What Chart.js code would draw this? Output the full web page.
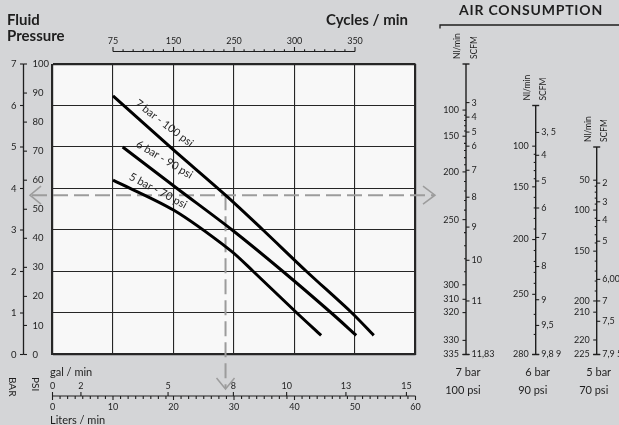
<!DOCTYPE html>
<html>
<head>
<meta charset="utf-8">
<script src="https://cdn.jsdelivr.net/npm/chart.js@4.4.1/dist/chart.umd.min.js"></script>
<style>
html, body { margin: 0; padding: 0; background: #d4d5d7; }
canvas { display: block; }
</style>
</head>
<body>
<canvas id="grafico" width="619" height="425"></canvas>
<script>
// Curvas da bomba: vazão (litros/min) x pressão do fluido (bar)
const litros7 = [10, 20, 28.6, 34.8, 42.0, 49.5, 53.1];
const pressao7 = [6.23, 4.93, 3.84, 3.0, 2.0, 1.0, 0.46];
const litros6 = [11.6, 20.6, 29.7, 38.1, 46.1, 50.2];
const pressao6 = [5.0, 4.0, 3.0, 2.0, 1.0, 0.46];
const litros5 = [10, 20, 29.4, 33.2, 40.4, 44.4];
const pressao5 = [4.2, 3.48, 2.51, 2.0, 1.0, 0.46];
const rotulosCurvas = ['7 bar - 100 psi', '6 bar - 90 psi', '5 bar - 70 psi'];

// Eixos
const barTicks = [0, 1, 2, 3, 4, 5, 6, 7];
const psiTicks = [0, 10, 20, 30, 40, 50, 60, 70, 80, 90, 100];
const litrosTicks = [0, 10, 20, 30, 40, 50, 60];
const galTicks = [0, 2, 5, 8, 10, 13, 15];
const galEmLitros = [0, 4.7, 19.1, 29.9, 38.7, 48.5, 58.5];
const ciclosTicks = [75, 150, 250, 300, 350];
const ciclosEmLitros = [10, 20, 30, 40, 50];

// Exemplo de leitura (linhas tracejadas)
const guiaBar = 3.84;
const guiaLitros = 28.6;

// Consumo de ar: valor e posição na escala de pressão do fluido (bar)
const ar7Nl = [100, 150, 200, 250, 300, 310, 320, 330, 335];
const ar7NlBar = [5.89, 5.26, 4.40, 3.25, 1.68, 1.33, 1.01, 0.34, 0];
const ar7Scfm = ['3', '4', '5', '6', '7', '8', '9', '10', '11', '11,83'];
const ar7ScfmBar = [6.07, 5.72, 5.36, 5.02, 4.44, 3.79, 3.07, 2.27, 1.29, 0];
const ar6Nl = [100, 150, 200, 250, 280];
const ar6NlBar = [5.02, 4.04, 2.77, 1.45, 0];
const ar6Scfm = ['3, 5', '4', '5', '6', '7', '8', '9', '9,5', '9,8 9'];
const ar6ScfmBar = [5.35, 4.80, 4.18, 3.53, 2.82, 2.12, 1.32, 0.70, 0];
const ar5Nl = [50, 100, 150, 200, 210, 220, 225];
const ar5NlBar = [4.20, 3.48, 2.49, 1.29, 1.02, 0.35, 0];
const ar5Scfm = ['2', '3', '4', '5', '6,00', '7', '7,5', '7,9 5'];
const ar5ScfmBar = [4.13, 3.68, 3.23, 2.73, 1.81, 1.29, 0.80, 0];
const arTopo = [7, 6, 5];
const arBar = ['7 bar', '6 bar', '5 bar'];
const arPsi = ['100 psi', '90 psi', '70 psi'];

const FONTE = '"Lato", "Open Sans", sans-serif';
const TINTA = '#1e1e1e';

function pontos(xs, ys) {
    return xs.map((x, i) => ({ x: x, y: ys[i] }));
}

function linha(ctx, x1, y1, x2, y2) {
    ctx.beginPath();
    ctx.moveTo(x1, y1);
    ctx.lineTo(x2, y2);
    ctx.stroke();
}

function texto(ctx, s, x, y, align, font, base) {
    ctx.font = font;
    ctx.textAlign = align;
    ctx.textBaseline = base || 'middle';
    ctx.fillText(s, x, y);
}

function textoGirado(ctx, s, x, y, ang, align, font, base, dy) {
    ctx.save();
    ctx.translate(x, y);
    ctx.rotate(ang);
    texto(ctx, s, 0, dy || 0, align, font, base);
    ctx.restore();
}

// Desenha uma escala de consumo de ar (Nl/min à esquerda, SCFM à direita).
function escalaAr(ctx, ys, x, topo, nl, nlBar, scfm, scfmBar, nomeBar, nomePsi) {
    const yTopo = ys.getPixelForValue(topo);
    const yBase = ys.getPixelForValue(0);
    ctx.lineWidth = 1.4;
    linha(ctx, x, yTopo, x, yBase);
    linha(ctx, x - 3.5, yTopo, x + 3.5, yTopo);
    linha(ctx, x - 3.5, yBase, x + 3.5, yBase);
    ctx.lineWidth = 1.1;
    nl.forEach((v, i) => {
        const py = ys.getPixelForValue(nlBar[i]);
        linha(ctx, x - 3.5, py, x, py);
        texto(ctx, String(v), x - 7, py, 'right', '9px ' + FONTE);
    });
    // traços menores a cada 10 Nl/min
    for (let i = 0; i < nl.length - 1; i++) {
        for (let v = nl[i] + 10; v < nl[i + 1]; v += 10) {
            const b = nlBar[i] + (nlBar[i + 1] - nlBar[i]) * (v - nl[i]) / (nl[i + 1] - nl[i]);
            const py = ys.getPixelForValue(b);
            linha(ctx, x - 2, py, x, py);
        }
    }
    scfm.forEach((s, i) => {
        const py = ys.getPixelForValue(scfmBar[i]);
        linha(ctx, x, py, x + 3.5, py);
        texto(ctx, s, x + 5.5, py, 'left', '9px ' + FONTE);
    });
    textoGirado(ctx, 'Nl/min', x - 8.5, yTopo - 5, -Math.PI / 2, 'left', '8.5px ' + FONTE);
    textoGirado(ctx, 'SCFM', x + 8, yTopo - 5, -Math.PI / 2, 'left', '8.5px ' + FONTE);
    texto(ctx, nomeBar, x + 2, 372, 'center', '11px ' + FONTE);
    texto(ctx, nomePsi, x - 3, 390, 'center', '11px ' + FONTE);
}

const desenho = {
    id: 'desenho',
    beforeDraw(chart) {
        const { ctx, chartArea: a } = chart;
        ctx.save();
        ctx.fillStyle = '#d4d5d7';
        ctx.fillRect(0, 0, chart.width, chart.height);
        ctx.fillStyle = '#f8f8f8';
        ctx.fillRect(a.left, a.top, a.right - a.left, a.bottom - a.top);
        ctx.restore();
    },
    beforeDatasetsDraw(chart) {
        // linhas guia tracejadas com setas
        const { ctx } = chart;
        const xs = chart.scales.x, ys = chart.scales.y;
        const gy = ys.getPixelForValue(guiaBar);
        const gx = xs.getPixelForValue(guiaLitros);
        ctx.save();
        ctx.strokeStyle = '#9c9c9c';
        ctx.lineWidth = 2;
        ctx.setLineDash([15, 6]);
        linha(ctx, 32, gy, 434, gy);
        linha(ctx, gx, gy, gx, 388);
        ctx.setLineDash([]);
        ctx.lineWidth = 1.5;
        ctx.beginPath();
        ctx.moveTo(41, gy - 9); ctx.lineTo(30, gy); ctx.lineTo(41, gy + 9);
        ctx.moveTo(423, gy - 9); ctx.lineTo(435, gy); ctx.lineTo(423, gy + 9);
        ctx.moveTo(gx - 9, 378); ctx.lineTo(gx, 389); ctx.lineTo(gx + 9, 378);
        ctx.stroke();
        ctx.restore();
    },
    afterDraw(chart) {
        const { ctx } = chart;
        const xs = chart.scales.x, ys = chart.scales.y, ps = chart.scales.psi;
        ctx.save();
        ctx.strokeStyle = TINTA;
        ctx.fillStyle = TINTA;

        // títulos
        texto(ctx, 'Fluid', 7, 25, 'left', 'bold 15px ' + FONTE, 'alphabetic');
        texto(ctx, 'Pressure', 7, 41, 'left', 'bold 15px ' + FONTE, 'alphabetic');
        texto(ctx, 'Cycles / min', 408, 25, 'right', 'bold 15px ' + FONTE, 'alphabetic');

        // eixo BAR / PSI
        const ax = 23.5;
        ctx.lineWidth = 1.3;
        linha(ctx, ax, ys.getPixelForValue(0), ax, ys.getPixelForValue(7));
        ctx.lineWidth = 1.1;
        barTicks.forEach(v => {
            const py = ys.getPixelForValue(v);
            linha(ctx, ax - 3.5, py, ax, py);
            texto(ctx, String(v), ax - 7, py, 'right', '9.5px ' + FONTE);
        });
        psiTicks.forEach(v => {
            const py = ps.getPixelForValue(v);
            linha(ctx, ax, py, ax + 3.5, py);
            texto(ctx, String(v), ax + 9, py, 'left', '9.5px ' + FONTE);
        });
        textoGirado(ctx, 'BAR', 12, 377, Math.PI / 2, 'left', '10px ' + FONTE);
        textoGirado(ctx, 'PSI', 35, 377, Math.PI / 2, 'left', '10px ' + FONTE);

        // eixo de ciclos (topo)
        const yc = 51.5;
        linha(ctx, xs.getPixelForValue(ciclosEmLitros[0]), yc,
            xs.getPixelForValue(ciclosEmLitros[ciclosEmLitros.length - 1]), yc);
        ciclosTicks.forEach((c, i) => {
            const px = xs.getPixelForValue(ciclosEmLitros[i]);
            linha(ctx, px, yc, px, yc - 4.5);
            texto(ctx, String(c), px, 41, 'center', '9px ' + FONTE);
            if (i < ciclosTicks.length - 1) {
                const passo = (ciclosEmLitros[i + 1] - ciclosEmLitros[i]) / 6;
                for (let k = 1; k < 6; k++) {
                    const qx = xs.getPixelForValue(ciclosEmLitros[i] + k * passo);
                    linha(ctx, qx, yc, qx, yc - 2.2);
                }
            }
        });

        // eixo gal/min e litros/min (base)
        const yb = 396;
        linha(ctx, xs.getPixelForValue(0), yb, xs.getPixelForValue(60), yb);
        for (let v = 1.25; v < 60; v += 1.25) {
            if (v % 10 === 0) continue;
            const px = xs.getPixelForValue(v);
            linha(ctx, px, yb, px, yb + 3);
        }
        litrosTicks.forEach(v => {
            const px = xs.getPixelForValue(v);
            linha(ctx, px, yb, px, yb + 4);
            texto(ctx, String(v), px, 407, 'center', '9px ' + FONTE);
        });
        galTicks.forEach((g, i) => {
            const px = xs.getPixelForValue(galEmLitros[i]);
            linha(ctx, px, yb, px, yb - 4);
            texto(ctx, String(g), px, 386, 'center', '9px ' + FONTE);
        });
        texto(ctx, 'gal / min', 50, 372, 'left', '11px ' + FONTE);
        texto(ctx, 'Liters / min', 50, 420, 'left', '11px ' + FONTE);

        // rótulos das curvas
        const rot = [
            { l: 13.4, b: 6.0, ang: 37.5 },
            { l: 13.6, b: 5.0, ang: 31 },
            { l: 12.45, b: 4.21, ang: 28 }
        ];
        ctx.fillStyle = '#262626';
        rotulosCurvas.forEach((s, i) => {
            textoGirado(ctx, s, xs.getPixelForValue(rot[i].l), ys.getPixelForValue(rot[i].b),
                rot[i].ang * Math.PI / 180, 'left', '11px ' + FONTE, 'alphabetic', -1);
        });
        ctx.fillStyle = TINTA;

        // consumo de ar
        ctx.save();
        ctx.letterSpacing = '0.8px';
        texto(ctx, 'AIR CONSUMPTION', 531, 10.5, 'center', 'bold 14px ' + FONTE);
        ctx.restore();
        ctx.lineWidth = 1.3;
        ctx.beginPath();
        ctx.moveTo(440, 28.5); ctx.lineTo(440, 25); ctx.lineTo(619, 25);
        ctx.stroke();
        escalaAr(ctx, ys, 466, arTopo[0], ar7Nl, ar7NlBar, ar7Scfm, ar7ScfmBar, arBar[0], arPsi[0]);
        escalaAr(ctx, ys, 535.7, arTopo[1], ar6Nl, ar6NlBar, ar6Scfm, ar6ScfmBar, arBar[1], arPsi[1]);
        escalaAr(ctx, ys, 596.7, arTopo[2], ar5Nl, ar5NlBar, ar5Scfm, ar5ScfmBar, arBar[2], arPsi[2]);
        ctx.restore();
    }
};

function larguraGrade(limites) {
    return c => (c.tick && limites.indexOf(c.tick.value) >= 0) ? 2.2 : 1.1;
}

const ctxG = document.getElementById('grafico').getContext('2d');
const curva = (rotulo, xs, ys) => ({
    label: rotulo,
    data: pontos(xs, ys),
    borderColor: '#000',
    borderWidth: 3,
    pointRadius: 0,
    fill: false,
    tension: 0.3
});

new Chart(ctxG, {
    type: 'line',
    data: {
        datasets: [
            curva(rotulosCurvas[0], litros7, pressao7),
            curva(rotulosCurvas[1], litros6, pressao6),
            curva(rotulosCurvas[2], litros5, pressao5)
        ]
    },
    options: {
        responsive: false,
        animation: false,
        events: [],
        layout: { padding: { left: 52.5, right: 203.5, top: 64, bottom: 70.5 } },
        plugins: { legend: { display: false }, tooltip: { enabled: false } },
        scales: {
            x: {
                type: 'linear', min: 0, max: 60,
                ticks: { display: false, stepSize: 10 },
                grid: { color: '#262626', lineWidth: larguraGrade([0, 60]), drawTicks: false },
                border: { display: false },
                afterFit: s => { s.height = 0; }
            },
            y: {
                type: 'linear', min: 0, max: 7,
                ticks: { display: false, stepSize: 1 },
                grid: { color: '#262626', lineWidth: larguraGrade([0, 7]), drawTicks: false },
                border: { display: false },
                afterFit: s => { s.width = 0; }
            },
            psi: { type: 'linear', axis: 'y', position: 'left', min: 0, max: 100, display: false }
        }
    },
    plugins: [desenho]
});
</script>
</body>
</html>
